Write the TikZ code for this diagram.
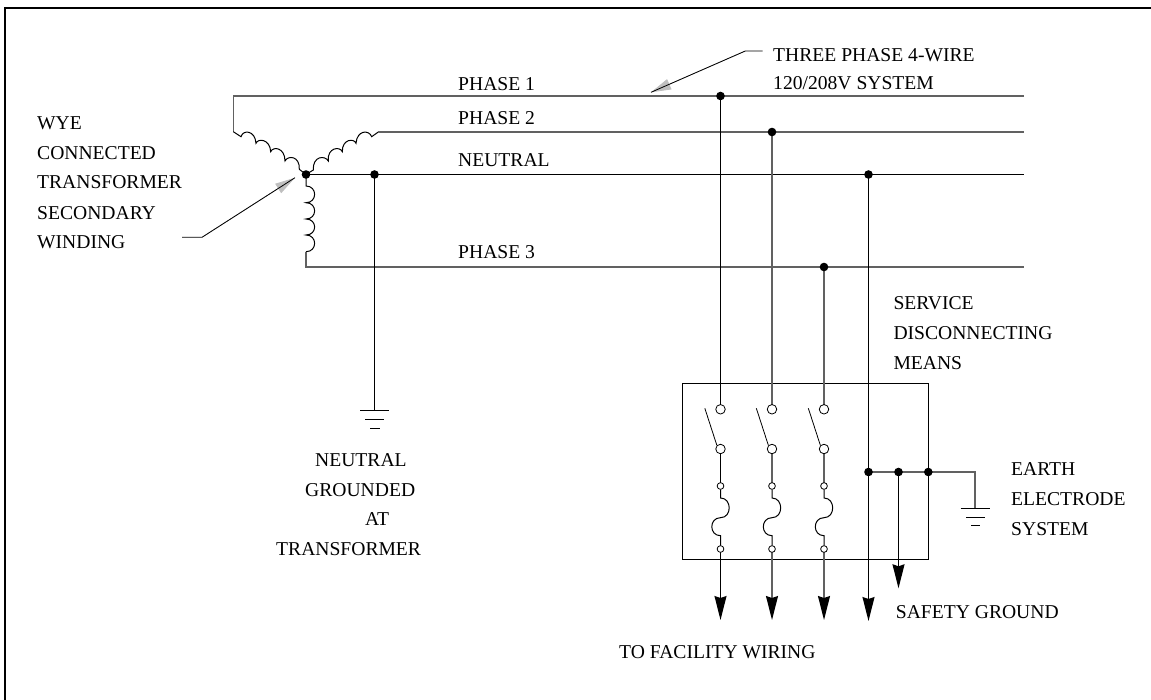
\documentclass[tikz,border=0pt]{standalone}
\usepackage{fontspec}
\setmainfont{Liberation Serif}
\usetikzlibrary{arrows.meta}
\tikzset{
  x=1pt,y=-1pt,
  wire/.style={line width=1.25pt,black},
  graywire/.style={line width=1.3pt,black!62},
  lbl/.style={anchor=base west,inner sep=0pt,font=\fontsize{19.6pt}{20pt}\selectfont,text=black},
  dot/.style={circle,fill=black,draw=none,inner sep=0pt,minimum size=8.6pt},
  term/.style={circle,fill=white,draw=black,line width=0.8pt,inner sep=0pt,minimum size=9.5pt},
  sterm/.style={circle,fill=white,draw=black,line width=0.8pt,inner sep=0pt,minimum size=6.7pt},
  coil/.style={line width=1pt,black},
  bar/.style={line width=1pt,black},
  tip/.style={-{Stealth[length=24pt,width=12pt,inset=2pt,fill=black,black]}},
  leader/.style={line width=0.8pt,black},
  ghead/.style={line width=0.8pt,black!25,-{Triangle[length=20pt,width=11pt,fill=black!25]}},
}
\begin{document}
\begin{tikzpicture}
\useasboundingbox (0,0) rectangle (1151,700);
\coordinate (fa) at (5,700);
\coordinate (fb) at (5,8);
\coordinate (fc) at (1151,8);
\draw[line width=2pt] (fa) -- (fb) -- (fc);
% wire end points
\coordinate (star0) at (306,174.5);
\coordinate (n10) at (374.5,174.5);
\coordinate (n20) at (868.5,174.5);
\coordinate (p10) at (720.5,96);
\coordinate (p20) at (772,132);
\coordinate (p30) at (824,267);
\coordinate (p1r) at (1024,96);
\coordinate (p2r) at (1024,132);
\coordinate (nr) at (1024,174.5);
\coordinate (p3r) at (1024,267);
% enclosure
\draw[line width=1pt] (682.7,384) rectangle (928.3,559.3);
% phase wires
\draw[graywire] (p1r) -- (233.3,96) -- (233.3,132);
\draw[coil] (233.3,131.7) -- (241,136.7)
  .. controls (243,129.5) and (255,130) .. (256,143.3)
  .. controls (258,138) and (270,139) .. (270.7,151.7)
  .. controls (273,146) and (285,147.5) .. (285,161)
  .. controls (288,155) and (300,156) .. (299.3,169.3)
  -- (star0);
\draw[coil] (star0) -- (313.3,170)
  .. controls (312.5,156) and (325,155) .. (328.3,161)
  .. controls (327,147.5) and (340,146) .. (342.3,151.7)
  .. controls (342,139) and (354,138) .. (356,143.3)
  .. controls (357,130) and (369,129.5) .. (371.7,136.7)
  -- (378.3,132);
\draw[graywire] (378.3,132) -- (p2r);
\draw[wire] (star0) -- (nr);
% lower winding
\draw[coil] (star0) -- (306,186)
  .. controls (317.5,186) and (317.5,202.7) .. (306,202.7)
  .. controls (317.5,202.7) and (317.5,219) .. (306,219)
  .. controls (317.5,219) and (317.5,235) .. (306,235)
  .. controls (317.5,235) and (317.5,251.7) .. (306,251.7);
\draw[graywire] (306,251.7) -- (306,267) -- (p3r);
% neutral ground
\coordinate (g1) at (374.5,410.3);
\draw[wire] (n10) -- (g1);
\draw[bar] (360,410.3) -- (389.3,410.3) (365,419.7) -- (384,419.7) (370,428.3) -- (380,428.3);
% switch columns
\foreach \x/\pp/\sty [count=\i] in {720.5/p10/wire,772/p20/graywire,824/p30/graywire}{
  \draw[\sty] (\pp) -- (\x,409.3);
  \draw[\sty] (\x,449) -- (\x,486);
  \draw[\sty,tip] (\x,549) -- (\x,620);
  \node[term] (a\i) at (\x,409.3) {};
  \node[term] (b\i) at (\x,449) {};
  \node[sterm] (c\i) at (\x,486) {};
  \node[sterm] (d\i) at (\x,549) {};
  \draw[leader] (b\i.north west) -- ++(-12,-37);
  \draw[coil] (c\i) -- (\x,498)
    .. controls (\x+11.6,498) and (\x+11.6,517.7) .. (\x,517.7)
    .. controls (\x-11.6,517.7) and (\x-11.6,535.7) .. (\x,535.7) -- (d\i);
}
% neutral drop
\coordinate (n3) at (868.5,621);
\draw[wire,tip] (n20) -- (n3);
% bus
\coordinate (b10) at (868.5,472);
\coordinate (b20) at (898.5,472);
\coordinate (b30) at (928.3,472);
\coordinate (be) at (975,472);
\coordinate (bg) at (975,508.3);
\coordinate (b4) at (898.5,588.3);
\draw[graywire] (b10) -- (b30) -- (be) -- (bg);
\draw[bar] (960.7,508.3) -- (990,508.3) (966,517.7) -- (985,517.7) (971,525.7) -- (980,525.7);
\draw[wire,tip] (b20) -- (b4);
% junction dots
\node[dot] (star) at (star0) {};
\node[dot] (n1) at (n10) {};
\node[dot] (n2) at (n20) {};
\node[dot] (p1) at (p10) {};
\node[dot] (p2) at (p20) {};
\node[dot] (p3) at (p30) {};
\node[dot] (b1) at (b10) {};
\node[dot] (b2) at (b20) {};
\node[dot] (b3) at (b30) {};
% leaders
\coordinate (l1a) at (762.7,51);
\coordinate (l1b) at (745.3,51);
\coordinate (l1c) at (651,92.3);
\draw[ghead] (l1b) -- (l1c);
\draw[leader] (l1a) -- (l1b) -- (l1c);
\coordinate (l2a) at (182,237.3);
\coordinate (l2b) at (202,237.3);
\coordinate (l2c) at (295,177.7);
\draw[ghead] (l2b) -- (l2c);
\draw[leader] (l2a) -- (l2b) -- (l2c);
% labels
\node[lbl] (t1) at (773,62) {THREE PHASE 4-WIRE};
\node[lbl] (t2) at (773,90) {120/208V SYSTEM};
\node[lbl] (t3) at (458,90.7) {PHASE 1};
\node[lbl] (t4) at (458,125) {PHASE 2};
\node[lbl] (t5) at (458,166.7) {NEUTRAL};
\node[lbl] (t6) at (458,258.3) {PHASE 3};
\node[lbl] (t7) at (37,129.3) {WYE};
\node[lbl] (t8) at (37,159.3) {CONNECTED};
\node[lbl] (t9) at (37,188.7) {TRANSFORMER};
\node[lbl] (t10) at (37,219.3) {SECONDARY};
\node[lbl] (t11) at (37,248.3) {WINDING};
\node[lbl] (t12) at (315,466) {NEUTRAL};
\node[lbl] (t13) at (305,496) {GROUNDED};
\node[lbl] (t14) at (365,525.3) {AT};
\node[lbl] (t15) at (276,555) {TRANSFORMER};
\node[lbl] (t16) at (893.3,310) {SERVICE};
\node[lbl] (t17) at (893.3,340) {DISCONNECTING};
\node[lbl] (t18) at (893.3,370) {MEANS};
\node[lbl] (t19) at (1011,475.3) {EARTH};
\node[lbl] (t20) at (1011,505) {ELECTRODE};
\node[lbl] (t21) at (1011,535.3) {SYSTEM};
\node[lbl] (t22) at (895.7,618.3) {SAFETY GROUND};
\node[lbl] (t23) at (619,658.5) {TO FACILITY WIRING};
\end{tikzpicture}
\end{document}
